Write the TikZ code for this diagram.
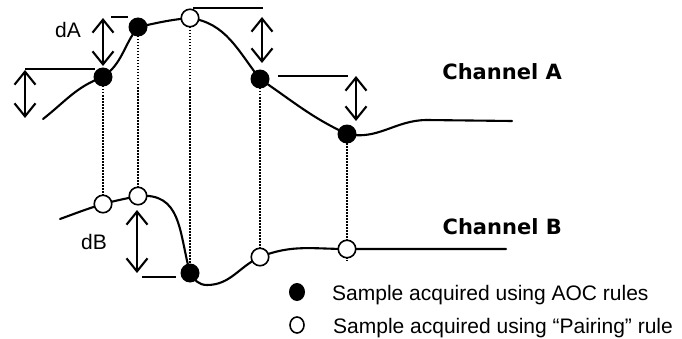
\documentclass[tikz,border=0pt]{standalone}
\usepackage{fontspec}
\setmainfont{Liberation Sans}
\newfontfamily\chanfont{DejaVu Sans}
\usetikzlibrary{arrows.meta}
\begin{document}
\begin{tikzpicture}[x=1pt,y=1pt,
  curve/.style={line width=2.1pt, line cap=round},
  dotline/.style={line width=1.5pt, dash pattern=on 1.5pt off 1.5pt},
  bar/.style={line width=2.5pt},
  dbl/.style={line width=2.1pt, {Straight Barb[length=13pt,width=21pt]}-{Straight Barb[length=13pt,width=21pt]}},
  full/.style={circle, fill=black, minimum size=19pt, inner sep=0pt},
  hollow/.style={circle, draw=black, fill=white, line width=1.6pt, minimum size=17.5pt, inner sep=0pt},
  lbl/.style={font=\fontsize{21}{25}\selectfont, inner sep=0pt},
  chan/.style={font=\chanfont\bfseries\fontsize{21}{25}\selectfont, inner sep=0pt, anchor=east}]
\fill[white] (0,0) rectangle (682,338);
\useasboundingbox (0,0) rectangle (682,338);
% sample positions
\coordinate (a0) at (43,219);
\coordinate (pA1) at (103,261);
\coordinate (pA2) at (138,311);
\coordinate (pA3) at (190,320);
\coordinate (pA4) at (260,259);
\coordinate (pA5) at (347,204);
\coordinate (a6) at (427,218);
\coordinate (a7) at (512,217);
\coordinate (b0) at (60,119);
\coordinate (pB1) at (103,134);
\coordinate (pB2) at (138,142);
\coordinate (pB3) at (190,65);
\coordinate (bmin) at (207,53);
\coordinate (pB4) at (260,81);
\coordinate (pB5) at (347,89);
\coordinate (b7) at (506,89);
\coordinate (b5end) at (347,77);
% curves
\draw[curve] (a0) to[out=38,in=200] (pA1) to[out=35,in=232] (pA2) to[out=12,in=185] (pA3)
  to[out=-8,in=128] (pA4) to[out=-34,in=155] (pA5) to[out=-12,in=180] (a6) -- (a7);
\draw[curve] (b0) to[out=20,in=197] (pB1) to[out=15,in=192] (pB2)
  to[out=5,in=105,looseness=1.2] (pB3) to[out=-60,in=180] (bmin) to[out=0,in=205] (pB4)
  to[out=22,in=180] (pB5) -- (b7);
% dotted verticals
\draw[dotline] (pA1) -- (pB1);
\draw[dotline] (pA2) -- (pB2);
\draw[dotline] (pA3) -- (pB3);
\draw[dotline] (pA4) -- (pB4);
\draw[dotline] (pA5) -- (b5end);
% level bars
\coordinate (h1l) at (25,269); \coordinate (h1r) at (95,269);
\coordinate (h2l) at (111,321); \coordinate (h2r) at (128,321);
\coordinate (h3l) at (193,330); \coordinate (h3r) at (263,330);
\coordinate (h4l) at (278,262); \coordinate (h4r) at (348,262);
\coordinate (h5l) at (142,61); \coordinate (h5r) at (176,61);
\draw[bar] (h1l) -- (h1r);
\draw[bar] (h2l) -- (h2r);
\draw[bar,line width=2.8pt] (h3l) -- (h3r);
\draw[bar,line width=2.1pt] (h4l) -- (h4r);
\draw[bar,line width=2.9pt] (h5l) -- (h5r);
% double arrows
\coordinate (d1t) at (25,268); \coordinate (d1b) at (25,220);
\coordinate (d2t) at (103,320); \coordinate (d2b) at (103,272);
\coordinate (d3t) at (262,321); \coordinate (d3b) at (262,275);
\coordinate (d4t) at (356,262); \coordinate (d4b) at (356,217);
\coordinate (d5t) at (137,128); \coordinate (d5b) at (137,65);
\draw[dbl] (d1t) -- (d1b);
\draw[dbl] (d2t) -- (d2b);
\draw[dbl] (d3t) -- (d3b);
\draw[dbl] (d4t) -- (d4b);
\draw[dbl] (d5t) -- (d5b);
% sample dots
\node[full] (A1) at (pA1) {};
\node[full] (A2) at (pA2) {};
\node[hollow] (A3) at (pA3) {};
\node[full] (A4) at (pA4) {};
\node[full] (A5) at (pA5) {};
\node[hollow] (B1) at (pB1) {};
\node[hollow] (B2) at (pB2) {};
\node[full] (B3) at (pB3) {};
\node[hollow] (B4) at (pB4) {};
\node[hollow] (B5) at (pB5) {};
% labels
\node[lbl] (dA) at (68,308) {dA};
\node[lbl] (dB) at (94,96) {dB};
\node[chan] (chA) at (562,266) {Channel A};
\node[chan] (chB) at (562,111) {Channel B};
% legend
\fill (297,46) ellipse (8pt and 9pt);
\draw[line width=1.6pt] (297,13) ellipse (7pt and 8pt);
\node[lbl, anchor=base west] (t1) at (332,38) {Sample acquired using AOC rules};
\node[lbl, anchor=base west] (t2) at (333,5) {Sample acquired using “Pairing” rule};
\end{tikzpicture}
\end{document}
